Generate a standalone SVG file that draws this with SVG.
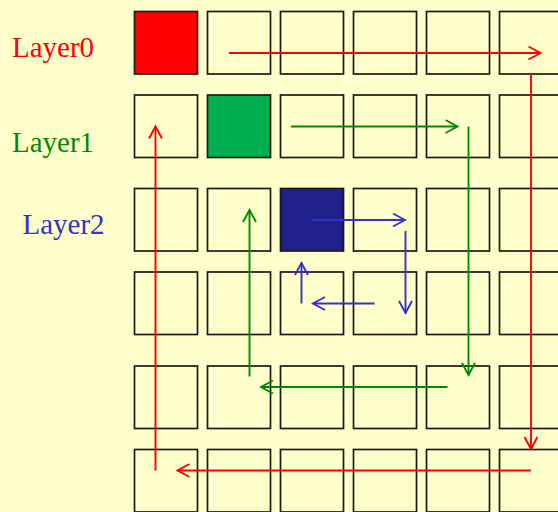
<svg xmlns="http://www.w3.org/2000/svg" width="558" height="512" viewBox="0 0 558 512">
<defs>
<style>
.cell{fill:none;stroke:#1a1a1a;stroke-width:1.7}
.lbl{font-family:"Liberation Serif","Times New Roman",serif;font-size:29px}
.r{stroke:#ff0000;stroke-width:1.9;fill:none}
.g{stroke:#008a00;stroke-width:1.9;fill:none}
.b{stroke:#3333cc;stroke-width:1.9;fill:none}
</style>
<marker id="ar" markerUnits="userSpaceOnUse" markerWidth="20" markerHeight="20" viewBox="-14 -10 16 20" refX="0" refY="0" orient="auto"><path d="M-12,-6.5 L0,0 L-12,6.5" fill="none" stroke="#ff0000" stroke-width="1.9"/></marker>
<marker id="ag" markerUnits="userSpaceOnUse" markerWidth="20" markerHeight="20" viewBox="-14 -10 16 20" refX="0" refY="0" orient="auto"><path d="M-12,-6.5 L0,0 L-12,6.5" fill="none" stroke="#008a00" stroke-width="1.9"/></marker>
<marker id="ab" markerUnits="userSpaceOnUse" markerWidth="20" markerHeight="20" viewBox="-14 -10 16 20" refX="0" refY="0" orient="auto"><path d="M-12,-6.5 L0,0 L-12,6.5" fill="none" stroke="#3333cc" stroke-width="1.9"/></marker>
</defs>
<rect width="558" height="512" fill="#ffffcc"/>
<g id="labels">
<text class="lbl" x="12" y="57" fill="#ff0000">Layer0</text>
<text class="lbl" x="12" y="152" fill="#008a00">Layer1</text>
<text class="lbl" x="22.5" y="234" fill="#3333cc">Layer2</text>
</g>
<g id="cells">
<rect id="c00" x="134.5" y="11.5" width="63" height="62.5" fill="#ff0000" stroke="#1a1a1a" stroke-width="1.7"/>
<rect class="cell" x="207.5" y="11.5" width="63" height="62.5"/>
<rect class="cell" x="280.5" y="11.5" width="63" height="62.5"/>
<rect class="cell" x="353.5" y="11.5" width="63" height="62.5"/>
<rect class="cell" x="426.5" y="11.5" width="63" height="62.5"/>
<rect class="cell" x="499.5" y="11.5" width="63" height="62.5"/>
<rect class="cell" x="134.5" y="95" width="63" height="62.5"/>
<rect id="c11" x="207.5" y="95" width="63" height="62.5" fill="#00b050" stroke="#1a1a1a" stroke-width="1.7"/>
<rect class="cell" x="280.5" y="95" width="63" height="62.5"/>
<rect class="cell" x="353.5" y="95" width="63" height="62.5"/>
<rect class="cell" x="426.5" y="95" width="63" height="62.5"/>
<rect class="cell" x="499.5" y="95" width="63" height="62.5"/>
<rect class="cell" x="134.5" y="188.5" width="63" height="62.5"/>
<rect class="cell" x="207.5" y="188.5" width="63" height="62.5"/>
<rect id="c22" x="280.5" y="188.5" width="63" height="62.5" fill="#20208a" stroke="#1a1a1a" stroke-width="1.7"/>
<rect class="cell" x="353.5" y="188.5" width="63" height="62.5"/>
<rect class="cell" x="426.5" y="188.5" width="63" height="62.5"/>
<rect class="cell" x="499.5" y="188.5" width="63" height="62.5"/>
<rect class="cell" x="134.5" y="272" width="63" height="62.5"/>
<rect class="cell" x="207.5" y="272" width="63" height="62.5"/>
<rect class="cell" x="280.5" y="272" width="63" height="62.5"/>
<rect class="cell" x="353.5" y="272" width="63" height="62.5"/>
<rect class="cell" x="426.5" y="272" width="63" height="62.5"/>
<rect class="cell" x="499.5" y="272" width="63" height="62.5"/>
<rect class="cell" x="134.5" y="366" width="63" height="62.5"/>
<rect class="cell" x="207.5" y="366" width="63" height="62.5"/>
<rect class="cell" x="280.5" y="366" width="63" height="62.5"/>
<rect class="cell" x="353.5" y="366" width="63" height="62.5"/>
<rect class="cell" x="426.5" y="366" width="63" height="62.5"/>
<rect class="cell" x="499.5" y="366" width="63" height="62.5"/>
<rect class="cell" x="134.5" y="449.5" width="63" height="62.5"/>
<rect class="cell" x="207.5" y="449.5" width="63" height="62.5"/>
<rect class="cell" x="280.5" y="449.5" width="63" height="62.5"/>
<rect class="cell" x="353.5" y="449.5" width="63" height="62.5"/>
<rect class="cell" x="426.5" y="449.5" width="63" height="62.5"/>
<rect class="cell" x="499.5" y="449.5" width="63" height="62.5"/>
</g>
<g id="connectors">
<line class="r" x1="229" y1="53" x2="540.5" y2="53" marker-end="url(#ar)"/>
<line class="r" x1="531" y1="74" x2="531" y2="449" marker-end="url(#ar)"/>
<line class="r" x1="531" y1="470.5" x2="177.5" y2="470.5" marker-end="url(#ar)"/>
<line class="r" x1="155.5" y1="470.5" x2="155.5" y2="126.5" marker-end="url(#ar)"/>
<line class="g" x1="291" y1="126.5" x2="457.5" y2="126.5" marker-end="url(#ag)"/>
<line class="g" x1="468.5" y1="126.5" x2="468.5" y2="375" marker-end="url(#ag)"/>
<line class="g" x1="447.5" y1="387" x2="261" y2="387" marker-end="url(#ag)"/>
<line class="g" x1="249.5" y1="376.5" x2="249.5" y2="210" marker-end="url(#ag)"/>
<line class="b" x1="312" y1="220" x2="405" y2="220" marker-end="url(#ab)"/>
<line class="b" x1="405.5" y1="231" x2="405.5" y2="313" marker-end="url(#ab)"/>
<line class="b" x1="374.5" y1="303.5" x2="313" y2="303.5" marker-end="url(#ab)"/>
<line class="b" x1="301.5" y1="303.5" x2="301.5" y2="263" marker-end="url(#ab)"/>
</g>
</svg>
